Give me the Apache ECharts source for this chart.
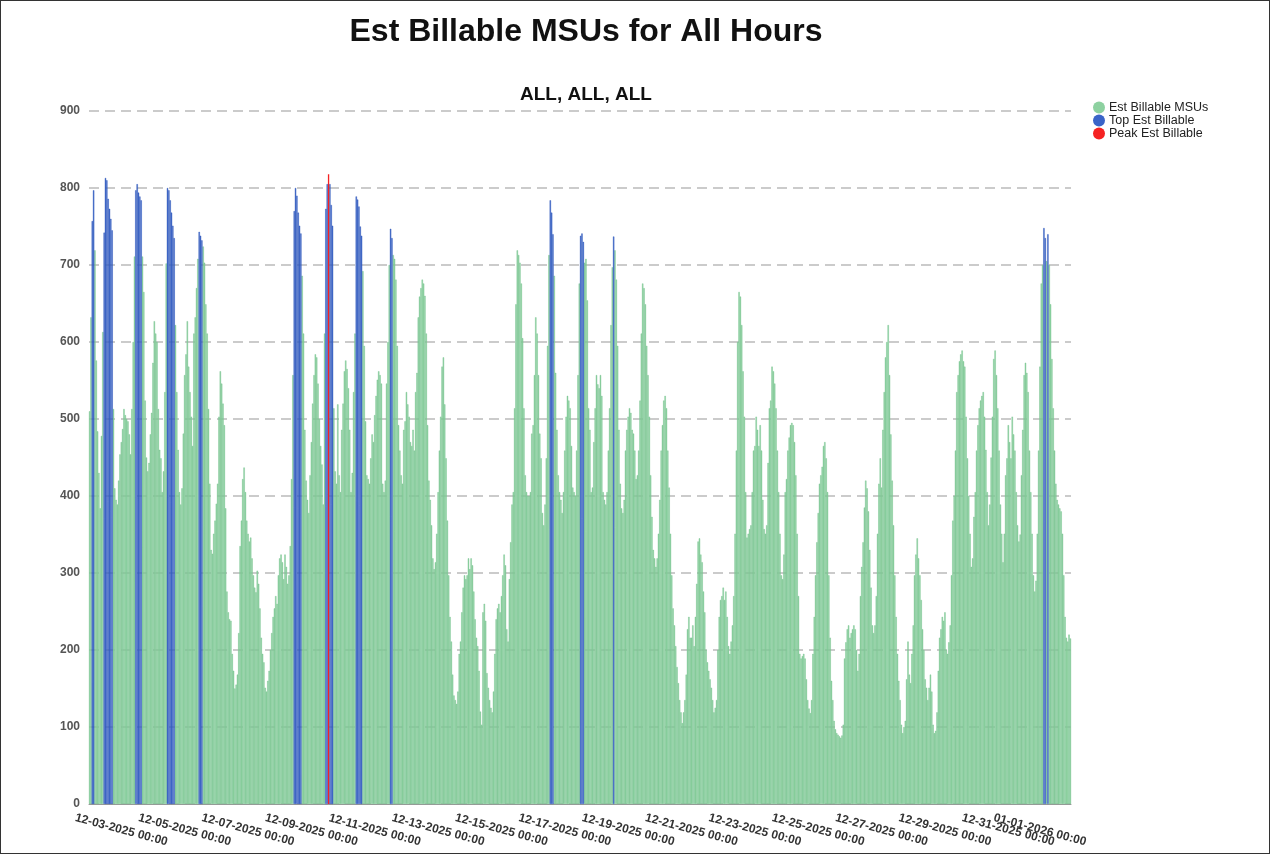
<!DOCTYPE html>
<html>
<head>
<meta charset="utf-8">
<title>Est Billable MSUs for All Hours</title>
<script src="https://cdn.jsdelivr.net/npm/echarts@6/dist/echarts.min.js"></script>
<style>
  html, body { margin: 0; padding: 0; background: #fff; }
  #chart { width: 1270px; height: 854px; box-sizing: border-box; border: 1px solid #333; }
</style>
</head>
<body>
<div id="chart"></div>
<script>
  // hourly Est Billable MSUs, one array per day, 00:00 .. 23:00
  const d1202 = [510, 632, 757, 797, 719, 576, 484, 430, 384, 478, 613, 742, 813, 810, 786, 773, 760, 745, 513, 410, 395, 389, 420, 454]
  const d1203 = [470, 487, 513, 505, 500, 497, 480, 454, 513, 600, 711, 797, 805, 794, 789, 784, 711, 665, 524, 450, 432, 443, 480, 508]
  const d1204 = [573, 627, 611, 600, 513, 460, 449, 405, 432, 535, 702, 800, 797, 784, 768, 751, 735, 622, 535, 460, 405, 389, 410, 481]
  const d1205 = [557, 584, 627, 568, 535, 503, 465, 611, 632, 670, 708, 743, 738, 732, 724, 703, 649, 611, 513, 416, 330, 325, 351, 368]
  const d1206 = [390, 416, 503, 562, 546, 520, 492, 384, 276, 249, 240, 238, 195, 173, 150, 155, 168, 222, 335, 368, 422, 437, 405, 368]
  const d1207 = [351, 341, 346, 319, 297, 281, 275, 303, 286, 254, 216, 195, 184, 151, 146, 160, 173, 200, 222, 243, 254, 270, 260, 297]
  const d1208 = [319, 324, 314, 292, 324, 308, 286, 297, 335, 422, 557, 770, 800, 790, 768, 751, 741, 686, 611, 486, 420, 395, 378, 427]
  const d1209 = [470, 520, 557, 584, 580, 546, 500, 465, 441, 389, 611, 773, 805, 818, 805, 778, 751, 514, 432, 416, 519, 427, 405, 486]
  const d1210 = [520, 562, 576, 565, 540, 486, 405, 430, 535, 611, 789, 785, 776, 750, 738, 692, 595, 497, 427, 422, 416, 449, 480, 470]
  const d1211 = [505, 530, 551, 562, 557, 546, 416, 405, 420, 546, 600, 700, 747, 735, 713, 708, 681, 595, 492, 459, 427, 416, 486, 497]
  const d1212 = [535, 519, 503, 470, 465, 486, 459, 535, 560, 632, 659, 670, 681, 676, 660, 611, 492, 420, 395, 362, 319, 305, 314, 351]
  const d1213 = [405, 459, 503, 568, 580, 519, 449, 368, 297, 243, 211, 168, 141, 135, 130, 146, 195, 211, 249, 281, 297, 292, 297, 319]
  const d1214 = [305, 319, 310, 276, 240, 216, 205, 173, 120, 103, 249, 260, 238, 170, 151, 135, 125, 119, 146, 195, 240, 254, 260, 249]
  const d1215 = [270, 297, 324, 310, 227, 211, 292, 340, 389, 405, 514, 649, 719, 713, 703, 676, 605, 514, 427, 405, 400, 400, 405, 481]
  const d1216 = [492, 557, 632, 611, 557, 481, 449, 378, 362, 389, 449, 595, 713, 784, 768, 740, 686, 560, 486, 427, 405, 395, 378, 405]
  const d1217 = [459, 503, 530, 524, 514, 465, 411, 405, 400, 459, 557, 676, 738, 741, 730, 703, 708, 654, 514, 486, 405, 411, 470, 514]
  const d1218 = [557, 545, 540, 557, 530, 405, 395, 389, 405, 459, 514, 622, 697, 737, 719, 681, 595, 486, 416, 384, 378, 395, 459, 486]
  const d1219 = [503, 514, 508, 486, 481, 459, 422, 427, 459, 524, 611, 676, 670, 649, 595, 557, 503, 427, 373, 330, 319, 308, 319, 351]
  const d1220 = [395, 459, 492, 524, 530, 514, 459, 411, 351, 297, 254, 232, 205, 178, 157, 135, 119, 105, 119, 135, 168, 227, 243, 216]
  const d1221 = [216, 232, 205, 243, 286, 341, 345, 324, 314, 276, 249, 200, 184, 173, 162, 151, 135, 119, 125, 135, 200, 243, 265, 270]
  const d1222 = [281, 265, 276, 243, 205, 195, 211, 232, 270, 351, 459, 600, 665, 659, 622, 562, 503, 405, 346, 351, 357, 362, 405, 459]
  const d1223 = [465, 503, 486, 465, 492, 459, 395, 357, 351, 362, 443, 514, 524, 568, 562, 546, 514, 459, 405, 351, 297, 292, 324, 405]
  const d1224 = [422, 459, 476, 492, 495, 492, 470, 427, 351, 270, 195, 189, 192, 195, 189, 162, 135, 124, 118, 135, 195, 243, 297, 340]
  const d1225 = [378, 416, 427, 438, 465, 470, 449, 405, 297, 216, 160, 135, 108, 97, 92, 90, 88, 86, 89, 103, 189, 210, 227, 232]
  const d1226 = [216, 222, 227, 232, 227, 200, 173, 195, 270, 308, 340, 385, 420, 410, 380, 330, 281, 232, 222, 232, 270, 351, 416, 449]
  const d1227 = [411, 486, 535, 580, 600, 622, 557, 480, 420, 362, 297, 243, 195, 160, 135, 103, 92, 100, 108, 162, 211, 168, 157, 195]
  const d1228 = [232, 297, 324, 345, 319, 297, 265, 227, 200, 162, 151, 135, 151, 168, 146, 103, 92, 95, 119, 173, 216, 227, 243, 238]
  const d1229 = [249, 200, 195, 210, 232, 297, 368, 400, 459, 535, 557, 575, 584, 589, 575, 568, 503, 449, 400, 351, 308, 319, 373, 405]
  const d1230 = [459, 492, 514, 524, 530, 535, 503, 460, 405, 362, 389, 450, 503, 578, 589, 557, 514, 459, 389, 351, 314, 351, 427, 449]
  const d1231 = [492, 470, 449, 503, 480, 459, 405, 362, 341, 350, 427, 486, 557, 573, 560, 535, 459, 405, 351, 297, 276, 290, 351, 459]
  const d0101 = [568, 676, 700, 748, 735, 705, 740, 700, 649, 578, 514, 459, 416, 395, 389, 384, 380, 351, 297, 243, 216, 211, 220, 215]

  const days = [d1202, d1203, d1204, d1205, d1206, d1207, d1208, d1209, d1210, d1211, d1212,
    d1213, d1214, d1215, d1216, d1217, d1218, d1219, d1220, d1221, d1222, d1223, d1224,
    d1225, d1226, d1227, d1228, d1229, d1230, d1231, d0101]

  // labelled hours on the x axis (the year start gets its own label)
  const tickLabels = ['12-03-2025 00:00', '12-05-2025 00:00', '12-07-2025 00:00', '12-09-2025 00:00',
    '12-11-2025 00:00', '12-13-2025 00:00', '12-15-2025 00:00', '12-17-2025 00:00',
    '12-19-2025 00:00', '12-21-2025 00:00', '12-23-2025 00:00', '12-25-2025 00:00',
    '12-27-2025 00:00', '12-29-2025 00:00', '12-31-2025 00:00']
  const yearLabel = '01-01-2026 00:00'

  const topLimit = 730   // hours at or above this count as "Top"

  const msu = [].concat(...days)
  const pad = n => (n < 10 ? '0' : '') + n
  const hours = []
  for (let d = 0; d < days.length; d++) {
    const day = new Date(2025, 11, 2 + d)
    for (let h = 0; h < 24; h++) {
      hours.push(pad(day.getMonth() + 1) + '-' + pad(day.getDate()) + '-' + day.getFullYear() + ' ' + pad(h) + ':00')
    }
  }

  const peak = Math.max(...msu)
  const baseData = msu.map(v => (v >= topLimit ? null : v))
  const topData = msu.map(v => (v >= topLimit && v !== peak ? v : null))
  const peakData = msu.map(v => (v === peak ? v : null))

  const font = 'Liberation Sans, Arial, sans-serif'
  const showTick = (i, v) => tickLabels.indexOf(v) >= 0 || v === yearLabel
  const showLabel = (i, v) => tickLabels.indexOf(v) >= 0
  const labelStyle = {
    hideOverlap: false,
    rotate: -15,
    align: 'center',
    verticalAlign: 'middle',
    margin: 26,
    fontSize: 12,
    fontWeight: 'bold',
    color: '#333',
    fontFamily: font
  }

  let myChart = echarts.init(document.getElementById('chart'))
  myChart.setOption({
    animation: false,
    textStyle: { fontFamily: font },
    title: [
      {
        text: 'Est Billable MSUs for All Hours',
        left: 580, top: 10, textAlign: 'center',
        textStyle: { fontSize: 32, fontWeight: 'bold', color: '#111', fontFamily: font }
      },
      {
        text: 'ALL, ALL, ALL',
        left: 580, top: 79, textAlign: 'center',
        textStyle: { fontSize: 19, fontWeight: 'bold', color: '#111', fontFamily: font }
      }
    ],
    legend: {
      orient: 'vertical',
      left: 1087, top: 95,
      icon: 'circle',
      itemWidth: 12, itemHeight: 12, itemGap: 0,
      itemStyle: { borderWidth: 0 },
      textStyle: { fontSize: 12.5, color: '#222', fontFamily: font, padding: [0, 0, 0, -1] },
      data: ['Est Billable MSUs', 'Top Est Billable', 'Peak Est Billable']
    },
    grid: { left: 88, right: 198, top: 110, bottom: 49 },
    xAxis: [
      {
        type: 'category',
        data: hours,
        axisLine: { lineStyle: { color: '#999' } },
        axisTick: { interval: showTick, length: 5, lineStyle: { color: '#999' } },
        axisLabel: Object.assign({ interval: showLabel }, labelStyle)
      },
      {
        // second label row only for the year start, so it is not dropped as an overlap
        type: 'category',
        data: hours,
        position: 'bottom',
        axisLine: { show: false },
        axisTick: { show: false },
        axisLabel: Object.assign({ interval: (i, v) => v === yearLabel }, labelStyle)
      }
    ],
    yAxis: {
      type: 'value',
      min: 0, max: 900, interval: 100,
      axisLine: { show: false },
      axisTick: { show: false },
      axisLabel: { fontSize: 12, fontWeight: 'bold', color: '#555', margin: 9, fontFamily: font },
      splitLine: { lineStyle: { color: '#bbb', width: 1.5, type: [10, 6] } }
    },
    series: [
      {
        name: 'Est Billable MSUs', type: 'bar', data: baseData,
        barGap: '-100%', barCategoryGap: '0%',
        itemStyle: { color: '#8dd1a0', borderColor: '#72c08b', borderWidth: 0.4 }
      },
      {
        name: 'Top Est Billable', type: 'bar', data: topData,
        barGap: '-100%', barCategoryGap: '0%',
        itemStyle: { color: '#3a64c8', borderColor: '#2d55b8', borderWidth: 0.4 }
      },
      {
        name: 'Peak Est Billable', type: 'bar', data: peakData,
        barGap: '-100%', barCategoryGap: '0%',
        itemStyle: { color: '#f52222' }
      }
    ]
  })
</script>
</body>
</html>
